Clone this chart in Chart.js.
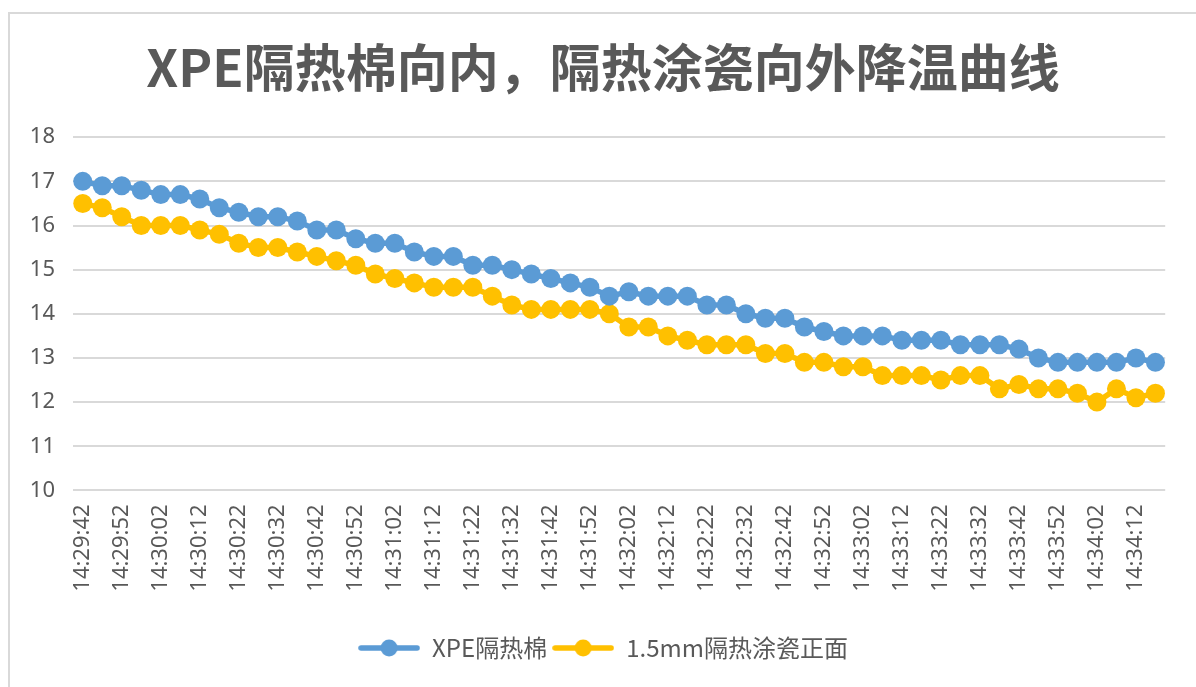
<!DOCTYPE html>
<html>
<head>
<meta charset="utf-8">
<script src="https://cdn.jsdelivr.net/npm/chart.js@4.4.1/dist/chart.umd.min.js"></script>
<style>
    body { margin: 0; background: #fff; }
    #frame { position: absolute; left: 8px; top: 12px; width: 1200px; height: 700px; border-top: 2px solid #d9d9d9; border-left: 2px solid #d9d9d9; }
    #wrap { position: absolute; left: 0; top: 0; width: 1196px; height: 687px; }
</style>
</head>
<body>
<div id="frame"></div>
<div id="wrap"><canvas id="chart"></canvas></div>
<script>
const times = ['14:29:42','14:29:47','14:29:52','14:29:57','14:30:02','14:30:07','14:30:12','14:30:17',
    '14:30:22','14:30:27','14:30:32','14:30:37','14:30:42','14:30:47','14:30:52','14:30:57',
    '14:31:02','14:31:07','14:31:12','14:31:17','14:31:22','14:31:27','14:31:32','14:31:37',
    '14:31:42','14:31:47','14:31:52','14:31:57','14:32:02','14:32:07','14:32:12','14:32:17',
    '14:32:22','14:32:27','14:32:32','14:32:37','14:32:42','14:32:47','14:32:52','14:32:57',
    '14:33:02','14:33:07','14:33:12','14:33:17','14:33:22','14:33:27','14:33:32','14:33:37',
    '14:33:42','14:33:47','14:33:52','14:33:57','14:34:02','14:34:07','14:34:12','14:34:17']

const xpeFoam = [17.0,16.9,16.9,16.8,16.7,16.7,16.6,16.4,16.3,16.2,16.2,16.1,15.9,15.9,15.7,15.6,
    15.6,15.4,15.3,15.3,15.1,15.1,15.0,14.9,14.8,14.7,14.6,14.4,14.5,14.4,14.4,14.4,
    14.2,14.2,14.0,13.9,13.9,13.7,13.6,13.5,13.5,13.5,13.4,13.4,13.4,13.3,13.3,13.3,
    13.2,13.0,12.9,12.9,12.9,12.9,13.0,12.9]

const ceramicFront = [16.5,16.4,16.2,16.0,16.0,16.0,15.9,15.8,15.6,15.5,15.5,15.4,15.3,15.2,15.1,14.9,
    14.8,14.7,14.6,14.6,14.6,14.4,14.2,14.1,14.1,14.1,14.1,14.0,13.7,13.7,13.5,13.4,
    13.3,13.3,13.3,13.1,13.1,12.9,12.9,12.8,12.8,12.6,12.6,12.6,12.5,12.6,12.6,12.3,
    12.4,12.3,12.3,12.2,12.0,12.3,12.1,12.2]

const seriesNames = ['XPE隔热棉', '1.5mm隔热涂瓷正面']
const seriesColors = ['#5B9BD5', '#FFC000']
const titleText = 'XPE隔热棉向内，隔热涂瓷向外降温曲线'

// legend marker: a short line with a dot in the middle
function legendMarker(color){
    const c = document.createElement('canvas')
    c.width = 62
    c.height = 20
    const g = c.getContext('2d')
    g.strokeStyle = color
    g.lineWidth = 5.5
    g.lineCap = 'round'
    g.beginPath()
    g.moveTo(3, 10)
    g.lineTo(59, 10)
    g.stroke()
    g.fillStyle = color
    g.beginPath()
    g.arc(31, 10, 8.5, 0, Math.PI * 2)
    g.fill()
    return c
}

const ctx = document.getElementById('chart').getContext('2d')
const myChart = new Chart(ctx, {
    type: 'line',
    data: {
        labels: times,
        datasets: [xpeFoam, ceramicFront].map((values, i) => ({
            label: seriesNames[i],
            data: values,
            borderColor: seriesColors[i],
            backgroundColor: seriesColors[i],
            borderWidth: 5.5,
            pointStyle: 'circle',
            pointRadius: 9.5,
            pointBorderWidth: 0,
            fill: false,
            tension: 0
        }))
    },
    options: {
        responsive: true,
        maintainAspectRatio: false,
        animation: false,
        layout: { padding: { left: 28, right: 18, top: 0, bottom: 17 } },
        scales: {
            x: {
                offset: true,
                grid: { display: false, drawTicks: false },
                border: { display: false },
                afterFit: function(scale){ scale.height = 140.6 },
                ticks: {
                    autoSkip: false,
                    maxRotation: 90,
                    minRotation: 90,
                    padding: 14,
                    color: '#595959',
                    font: { family: 'Noto Sans', size: 22 },
                    callback: function(value, index){
                        return index % 2 === 0 ? this.getLabelForValue(value) : ''
                    }
                }
            },
            y: {
                min: 10,
                max: 18,
                grid: { color: '#d9d9d9', lineWidth: 2, drawTicks: false },
                border: { display: false },
                afterFit: function(scale){ scale.width = 45 },
                ticks: {
                    stepSize: 1,
                    padding: 18,
                    color: '#595959',
                    font: { family: 'Noto Sans', size: 22 }
                }
            }
        },
        plugins: {
            title: {
                display: true,
                text: titleText,
                color: '#595959',
                font: { family: 'Noto Sans CJK SC', size: 51, weight: 'bold', lineHeight: 1.2 },
                padding: { top: 37, bottom: 39 }
            },
            legend: {
                position: 'bottom',
                labels: {
                    usePointStyle: true,
                    pointStyleWidth: 62,
                    padding: 5,
                    color: '#595959',
                    font: { family: 'Noto Sans CJK SC', size: 24 },
                    generateLabels: function(chart){
                        return chart.data.datasets.map((ds, i) => ({
                            text: ds.label,
                            fillStyle: seriesColors[i],
                            strokeStyle: seriesColors[i],
                            lineWidth: 0,
                            pointStyle: legendMarker(seriesColors[i]),
                            fontColor: '#595959',
                            datasetIndex: i
                        }))
                    }
                }
            },
            tooltip: { enabled: false }
        }
    }
})
</script>
</body>
</html>
